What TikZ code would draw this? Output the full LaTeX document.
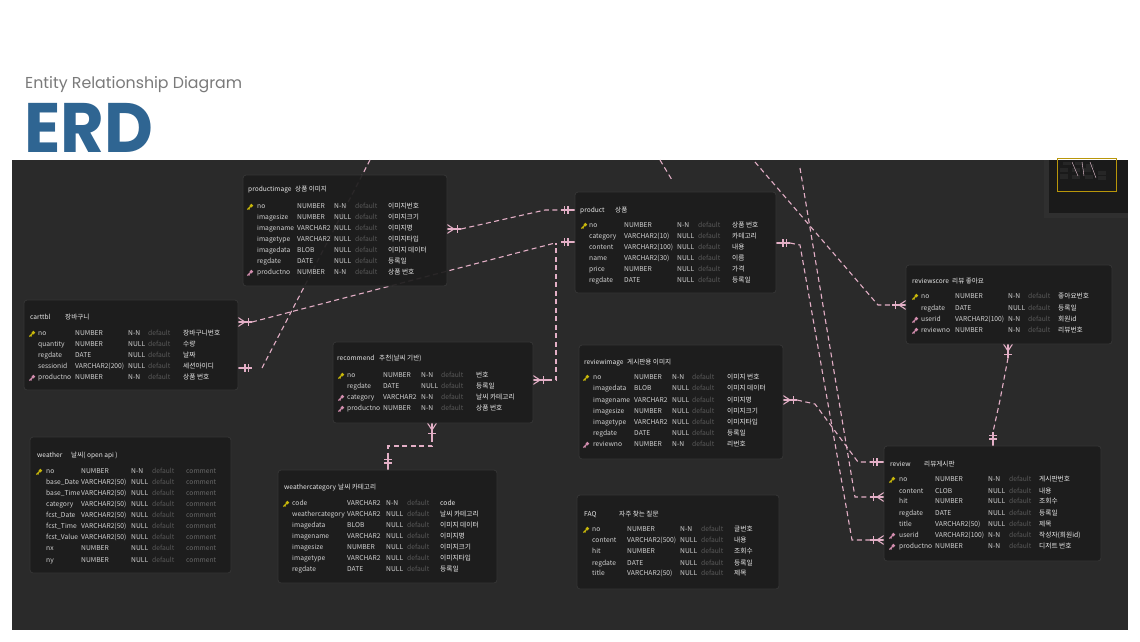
\documentclass[tikz,border=0pt]{standalone}
\usepackage{fontspec}
\setmainfont{Noto Sans CJK KR}
\newfontfamily\titlefont{Poppins}
\definecolor{bgdark}{HTML}{2A2A2A}
\definecolor{tblfill}{HTML}{1D1D1D}
\definecolor{tblborder}{HTML}{353535}
\definecolor{txtc}{HTML}{D2D2D2}
\definecolor{dfltc}{HTML}{5A5A5A}
\definecolor{cmc}{HTML}{EAEAEA}
\definecolor{wcm}{HTML}{6A6A6A}
\definecolor{linkc}{HTML}{E3AFC6}
\definecolor{pkc}{HTML}{C8B70A}
\definecolor{fkc}{HTML}{D28DAE}
\definecolor{erdblue}{HTML}{2F6592}
\definecolor{subgray}{HTML}{7A7A7A}
\definecolor{mapfill}{HTML}{1A1A1A}
\definecolor{mapyel}{HTML}{B8960A}
\tikzset{
 tbl/.style={draw=tblborder, fill=tblfill, fill opacity=0.93, rounded corners=3pt, line width=0.8pt},
 t/.style={anchor=west, inner sep=0pt, font=\fontsize{6.7}{7}\selectfont, text height=5pt, text depth=1.5pt, text=txtc},
 ttl/.style={t, font=\fontsize{6.6}{7}\selectfont, text=cmc},
 dflt/.style={t, text=dfltc},
 cmt/.style={t, text=cmc},
 wcmt/.style={t, text=wcm},
 conn/.style={draw=linkc, line width=1.1pt, dash pattern=on 5pt off 3.5pt},
 mk/.style={draw=linkc, line width=1.1pt},
 one/.pic={\draw[mk] (0,0) -- (14,0); \draw[mk] (7,-4) -- (7,4); \draw[mk] (10.5,-4) -- (10.5,4);},
 many/.pic={\draw[mk] (0,0) -- (14,0); \draw[mk] (0,-4.5) -- (7,0) -- (0,4.5); \draw[mk] (10.5,-4) -- (10.5,4);},
 pkey/.pic={\fill[pkc] (1.4,-1.4) circle (1.9pt); \draw[pkc, line width=1.2pt] (1,-1) -- (-2.6,2.6); \draw[pkc, line width=0.9pt] (-1.2,1.2) -- (-0.2,2.2);},
 fkey/.pic={\fill[fkc] (1.4,-1.4) circle (1.9pt); \draw[fkc, line width=1.2pt] (1,-1) -- (-2.6,2.6); \draw[fkc, line width=0.9pt] (-1.2,1.2) -- (-0.2,2.2);},
}
\newcommand\cols[6]{\def\ka{#1}\def\kb{#2}\def\kc{#3}\def\kd{#4}\def\ke{#5}\def\kf{#6}}
\def\cst{cmt}
\newcommand\fld[7]{%
  \ifnum#3=1 \pic at (\ka,#2) {pkey};\fi
  \ifnum#3=2 \pic at (\ka,#2) {fkey};\fi
  \node[t] (#1-n) at (\kb,#2) {#4};
  \node[t] (#1-t) at (\kc,#2) {#5};
  \node[t] (#1-u) at (\kd,#2) {#6};
  \node[dflt] (#1-d) at (\ke,#2) {default};
  \node[\cst] (#1-c) at (\kf,#2) {#7};
}
\begin{document}
\begin{tikzpicture}[x=1pt,y=-1pt]
\useasboundingbox (0,0) rectangle (1140,641);
\fill[white] (0,0) rectangle (1140,641);
% titles
\node[anchor=base west, inner sep=0, text=subgray, font=\titlefont\fontsize{15.8}{17}\selectfont] (subtitle) at (25,88) {Entity Relationship Diagram};
\node[anchor=base west, inner sep=0, text=erdblue] (erd) at (24,152) {\scalebox{0.96}[1]{\titlefont\bfseries\fontsize{70}{72}\selectfont ERD}};
% canvas
\fill[bgdark] (12,160) rectangle (1128,630);
% minimap
\fill[black!80, opacity=0.6] (1044,160) rectangle (1128,218);
\fill[mapfill] (1049,160) rectangle (1128,213);
\draw[mapyel, line width=0.8pt] (1057,158) rectangle (1116,191);
\foreach \a/\b/\c/\d in {1063/162/1071/165, 1075/162/1083/165, 1086/164/1094/168, 1060/168/1068/172, 1072/168/1080/172, 1083/168/1091/172, 1098/171/1106/175, 1060/174/1068/179, 1072/175/1080/179, 1085/175/1093/179, 1098/176/1106/180}
  \fill[black!85] (\a,\b) rectangle (\c,\d);
\draw[linkc!70, line width=0.4pt] (1072,162) -- (1078,176) (1082,162) -- (1084,176) (1090,162) -- (1096,178);

% ---------- connectors ----------
\coordinate (cartA) at (238,368);
\coordinate (topA) at (370,160);
\draw[conn] (262,368) -- (topA);
\pic at (cartA) {one};

\coordinate (cartB) at (238,322);
\coordinate (prodB) at (575,242);
\draw[conn] (252,322) -- (555,243);
\pic at (cartB) {many};
\pic[rotate=180] at (prodB) {one};

\coordinate (piC) at (447,229);
\coordinate (prodC) at (575,210);
\draw[conn] (461,229) -- (545,210) -- (561,210);
\pic at (piC) {many};
\pic[rotate=180] at (prodC) {one};

\coordinate (recD) at (533,380);
\draw[conn] (547,380) -- (556,380) -- (556,243);
\pic at (recD) {many};

\coordinate (recE) at (432,423);
\coordinate (wcE) at (388,470);
\draw[conn] (432,437) -- (432,446) -- (388,446) -- (388,456);
\pic[rotate=-90] at (recE) {many};
\pic[rotate=90] at (wcE) {one};

\coordinate (rsF) at (1008,344);
\coordinate (rvF) at (993,446);
\draw[conn] (1008,358) -- (1000,400) -- (993,432);
\pic[rotate=-90] at (rsF) {many};
\pic[rotate=90] at (rvF) {one};

\coordinate (riG) at (783,400);
\coordinate (rvG) at (884,462);
\draw[conn] (797,400) -- (815,404) -- (858,462) -- (870,462);
\pic at (riG) {many};
\pic[rotate=180] at (rvG) {one};

\coordinate (rvH) at (884,497);
\draw[conn] (800,168) -- (855,497) -- (870,497);
\pic[rotate=180] at (rvH) {many};

\coordinate (prodI) at (776,243);
\coordinate (rvI) at (884,540);
\draw[conn] (790,243) -- (800,245) -- (852,540) -- (870,540);
\pic at (prodI) {one};
\pic[rotate=180] at (rvI) {many};

\coordinate (rsJ) at (906,305);
\draw[conn] (755,162) -- (878,305) -- (892,305);
\pic[rotate=180] at (rsJ) {many};

\draw[conn] (660,160) -- (672,180);

% ---------- productimage ----------
\fill[tbl] (243,175) rectangle (447,286);
\node[ttl] (pi-title) at (248,190) {productimage};
\node[ttl] (pi-ko) at (295,190) {상품 이미지};
\cols{250}{257}{297}{334}{355}{388}
\fld{pi1}{207}{1}{no}{NUMBER}{N-N}{이미지번호}
\fld{pi2}{218}{0}{imagesize}{NUMBER}{NULL}{이미지크기}
\fld{pi3}{229}{0}{imagename}{VARCHAR2}{NULL}{이미지명}
\fld{pi4}{240}{0}{imagetype}{VARCHAR2}{NULL}{이미지타입}
\fld{pi5}{251}{0}{imagedata}{BLOB}{NULL}{이미지 데이터}
\fld{pi6}{262}{0}{regdate}{DATE}{NULL}{등록일}
\fld{pi7}{273}{2}{productno}{NUMBER}{N-N}{상품 번호}

% ---------- product ----------
\fill[tbl] (575,192) rectangle (776,293);
\node[ttl] (pr-title) at (580,211) {product};
\node[ttl] (pr-ko) at (615,211) {상품};
\cols{584}{589}{624}{677}{698}{732}
\fld{pr1}{226}{1}{no}{NUMBER}{N-N}{상품 번호}
\fld{pr2}{237}{0}{category}{VARCHAR2(10)}{NULL}{카테고리}
\fld{pr3}{248}{0}{content}{VARCHAR2(100)}{NULL}{내용}
\fld{pr4}{259}{0}{name}{VARCHAR2(30)}{NULL}{이름}
\fld{pr5}{270}{0}{price}{NUMBER}{NULL}{가격}
\fld{pr6}{281}{0}{regdate}{DATE}{NULL}{등록일}

% ---------- carttbl ----------
\fill[tbl] (24,300) rectangle (238,390);
\node[ttl] (ct-title) at (30,318) {carttbl};
\node[ttl] (ct-ko) at (65,318) {장바구니};
\cols{32}{38}{75}{128}{148}{183}
\fld{ct1}{334}{1}{no}{NUMBER}{N-N}{장바구니번호}
\fld{ct2}{345}{0}{quantity}{NUMBER}{NULL}{수량}
\fld{ct3}{356}{0}{regdate}{DATE}{NULL}{날짜}
\fld{ct4}{367}{0}{sessionid}{VARCHAR2(200)}{NULL}{세션아이디}
\fld{ct5}{378}{2}{productno}{NUMBER}{N-N}{상품 번호}

% ---------- recommend ----------
\fill[tbl] (333,342) rectangle (533,423);
\node[ttl] (rc-title) at (337,359) {recommend};
\node[ttl] (rc-ko) at (379,359) {추천(날씨 기반)};
\cols{341}{347}{383}{421}{441}{476}
\fld{rc1}{376}{1}{no}{NUMBER}{N-N}{번호}
\fld{rc2}{387}{0}{regdate}{DATE}{NULL}{등록일}
\fld{rc3}{398}{2}{category}{VARCHAR2}{N-N}{날씨 카테고리}
\fld{rc4}{409}{2}{productno}{NUMBER}{N-N}{상품 번호}

% ---------- reviewimage ----------
\fill[tbl] (579,345) rectangle (783,459);
\node[ttl] (ri-title) at (584,363) {reviewimage};
\node[ttl] (ri-ko) at (627,363) {게시판용 이미지};
\cols{586}{593}{634}{672}{692}{727}
\fld{ri1}{378}{1}{no}{NUMBER}{N-N}{이미지 번호}
\fld{ri2}{389}{0}{imagedata}{BLOB}{NULL}{이미지 데이터}
\fld{ri3}{401}{0}{imagename}{VARCHAR2}{NULL}{이미지명}
\fld{ri4}{412}{0}{imagesize}{NUMBER}{NULL}{이미지크기}
\fld{ri5}{423}{0}{imagetype}{VARCHAR2}{NULL}{이미지타입}
\fld{ri6}{434}{0}{regdate}{DATE}{NULL}{등록일}
\fld{ri7}{445}{2}{reviewno}{NUMBER}{N-N}{리번호}

% ---------- reviewscore ----------
\fill[tbl] (906,265) rectangle (1112,344);
\node[ttl] (rs-title) at (912,282) {reviewscore};
\node[ttl] (rs-ko) at (952,282) {리뷰 좋아요};
\cols{915}{921}{955}{1008}{1028}{1058}
\fld{rs1}{297}{1}{no}{NUMBER}{N-N}{좋아요번호}
\fld{rs2}{309}{0}{regdate}{DATE}{NULL}{등록일}
\fld{rs3}{320}{2}{userid}{VARCHAR2(100)}{N-N}{회원id}
\fld{rs4}{331}{2}{reviewno}{NUMBER}{N-N}{리뷰번호}

% ---------- weather ----------
\fill[tbl] (30,437) rectangle (231,573);
\node[ttl] (we-title) at (37,456) {weather};
\node[ttl] (we-ko) at (71,456) {날씨( open api )};
\cols{39}{46}{81}{131}{152}{186}
\def\cst{wcmt}
\fld{we1}{472}{1}{no}{NUMBER}{N-N}{comment}
\fld{we2}{483}{0}{base\_Date}{VARCHAR2(50)}{NULL}{comment}
\fld{we3}{494}{0}{base\_Time}{VARCHAR2(50)}{NULL}{comment}
\fld{we4}{505}{0}{category}{VARCHAR2(50)}{NULL}{comment}
\fld{we5}{516}{0}{fcst\_Date}{VARCHAR2(50)}{NULL}{comment}
\fld{we6}{527}{0}{fcst\_Time}{VARCHAR2(50)}{NULL}{comment}
\fld{we7}{538}{0}{fcst\_Value}{VARCHAR2(50)}{NULL}{comment}
\fld{we8}{549}{0}{nx}{NUMBER}{NULL}{comment}
\fld{we9}{561}{0}{ny}{NUMBER}{NULL}{comment}
\def\cst{cmt}

% ---------- weathercategory ----------
\fill[tbl] (278,470) rectangle (497,583);
\node[ttl] (wc-title) at (284,488) {weathercategory};
\node[ttl] (wc-ko) at (338,488) {날씨 카테고리};
\cols{286}{292}{347}{386}{407}{440}
\fld{wc1}{504}{1}{code}{VARCHAR2}{N-N}{code}
\fld{wc2}{515}{0}{weathercategory}{VARCHAR2}{NULL}{날씨 카테고리}
\fld{wc3}{526}{0}{imagedata}{BLOB}{NULL}{이미지 데이터}
\fld{wc4}{537}{0}{imagename}{VARCHAR2}{NULL}{이미지명}
\fld{wc5}{548}{0}{imagesize}{NUMBER}{NULL}{이미지크기}
\fld{wc6}{559}{0}{imagetype}{VARCHAR2}{NULL}{이미지타입}
\fld{wc7}{570}{0}{regdate}{DATE}{NULL}{등록일}

% ---------- FAQ ----------
\fill[tbl] (577,495) rectangle (779,589);
\node[ttl] (fq-title) at (584,515) {FAQ};
\node[ttl] (fq-ko) at (619,515) {자주 찾는 질문};
\cols{586}{592}{627}{680}{701}{734}
\fld{fq1}{530}{1}{no}{NUMBER}{N-N}{글번호}
\fld{fq2}{541}{0}{content}{VARCHAR2(500)}{NULL}{내용}
\fld{fq3}{552}{0}{hit}{NUMBER}{NULL}{조회수}
\fld{fq4}{564}{0}{regdate}{DATE}{NULL}{등록일}
\fld{fq5}{574}{0}{title}{VARCHAR2(50)}{NULL}{제목}

% ---------- review ----------
\fill[tbl] (884,446) rectangle (1101,561);
\node[ttl] (rv-title) at (890,465) {review};
\node[ttl] (rv-ko) at (924,465) {리뷰게시판};
\cols{892}{899}{935}{988}{1009}{1039}
\fld{rv1}{480}{1}{no}{NUMBER}{N-N}{게시판번호}
\fld{rv2}{492}{0}{content}{CLOB}{NULL}{내용}
\fld{rv3}{502}{0}{hit}{NUMBER}{NULL}{조회수}
\fld{rv4}{514}{0}{regdate}{DATE}{NULL}{등록일}
\fld{rv5}{525}{0}{title}{VARCHAR2(50)}{NULL}{제목}
\fld{rv6}{536}{2}{userid}{VARCHAR2(100)}{N-N}{작성자(회원id)}
\fld{rv7}{547}{2}{productno}{NUMBER}{N-N}{디저트 번호}
\end{tikzpicture}
\end{document}
